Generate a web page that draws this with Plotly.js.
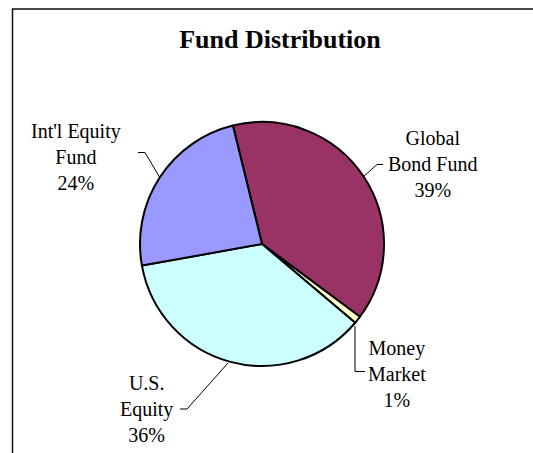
<!DOCTYPE html>
<html>
<head>
<meta charset="utf-8">
<script src="https://cdn.plot.ly/plotly-3.0.1.min.js"></script>
<style>
html,body{margin:0;padding:0;background:#fff;}
#chart{width:533px;height:453px;}
</style>
</head>
<body>
<div id="chart"></div>
<script>
// ---- data ----
var categories = ["Global Bond Fund", "Money Market", "U.S. Equity", "Int'l Equity Fund"];
var labelLines = ["Global<br>Bond Fund", "Money<br>Market", "U.S.<br>Equity", "Int'l Equity<br>Fund"];
var values = [39, 1, 36, 24];
var colors = ["#993366", "#FFFFCC", "#CCFFFF", "#9999FF"];
var chartTitle = "Fund Distribution";

// ---- layout helpers ----
var W = 533, H = 453;
function px(x){ return x / W; }
function py(y){ return 1 - y / H; }
function path(pts){
  return pts.map(function(p, i){ return (i ? 'L' : 'M') + px(p[0]) + ',' + py(p[1]); }).join(' ');
}

var total = values.reduce(function(a, b){ return a + b; }, 0);
var pctText = values.map(function(v){ return Math.round(v / total * 100) + '%'; });

// label anchor positions (pixels) and leader lines
var labelPos = [[432, 164], [397, 374], [146, 409], [76, 157]];
var leaders = [
  [[383, 164.5], [377, 164.5], [363, 177]],
  [[365, 371.5], [355, 371.5], [355, 326]],
  [[180, 409], [187, 409], [228, 363]],
  [[138, 152.5], [145, 152.5], [160, 178]]
];

var annotations = categories.map(function(c, i){
  return {
    xref: 'paper', yref: 'paper',
    x: px(labelPos[i][0]), y: py(labelPos[i][1]),
    xanchor: 'center', yanchor: 'middle',
    text: labelLines[i] + '<br>' + pctText[i],
    showarrow: false, align: 'center',
    font: {family: 'Liberation Serif, Times New Roman, serif', size: 20, color: '#000'}
  };
});

var shapes = [{
  type: 'rect', xref: 'paper', yref: 'paper',
  x0: px(12.5), x1: px(560), y0: py(480), y1: py(9),
  line: {color: '#111', width: 1.5}, fillcolor: 'rgba(0,0,0,0)'
}];
leaders.forEach(function(l){
  shapes.push({type: 'path', xref: 'paper', yref: 'paper', path: path(l),
    line: {color: '#000', width: 1}});
});

var cx = 262, cy = 244, r = 122;
var trace = {
  type: 'pie',
  labels: categories,
  values: values,
  sort: false,
  direction: 'clockwise',
  rotation: -13.8,
  marker: {colors: colors, line: {color: '#000', width: 2}},
  textinfo: 'none',
  hoverinfo: 'skip',
  showlegend: false,
  domain: {x: [px(cx - r), px(cx + r)], y: [py(cy + r), py(cy - r)]}
};

var layout = {
  width: W, height: H,
  margin: {l: 0, r: 0, t: 0, b: 0},
  paper_bgcolor: '#fff',
  showlegend: false,
  title: {
    text: '<b>' + chartTitle + '</b>',
    x: px(280), xanchor: 'center',
    y: py(39), yanchor: 'middle',
    font: {family: 'Liberation Serif, Times New Roman, serif', size: 26, color: '#000'}
  },
  annotations: annotations,
  shapes: shapes
};

Plotly.newPlot('chart', [trace], layout, {staticPlot: true});
</script>
</body>
</html>
